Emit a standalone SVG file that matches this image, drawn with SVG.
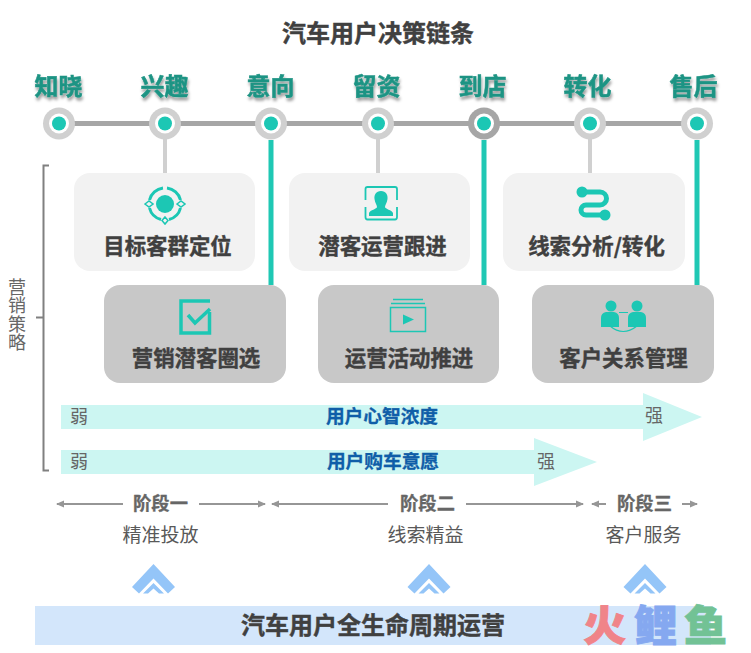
<svg xmlns="http://www.w3.org/2000/svg" width="751" height="653" viewBox="0 0 751 653">
<defs>
<filter id="sh" x="-20%" y="-20%" width="140%" height="160%"><feDropShadow dx="1" dy="3" stdDeviation="1.5" flood-color="#000" flood-opacity="0.4"/></filter>
<marker id="ah" viewBox="0 0 8 8" refX="7" refY="4" markerWidth="8" markerHeight="8" markerUnits="userSpaceOnUse" orient="auto-start-reverse"><path d="M0 0.5L8 4L0 7.5Z" fill="#969696"/></marker>
<g id="chev"><path d="M0 0L21.5 23L14.500 29.500L0 14.500L-14.500 29.500L-21.500 23Z" fill="#94c5f8"/><path d="M0 19L10.500 29.500H5.500L0 24.500L-5.500 29.500H-10.500Z" fill="#94c5f8"/></g>
</defs>
<style>
text{font-family:"Noto Sans CJK SC","Liberation Sans",sans-serif}
.t{font-size:24px;font-weight:700;fill:#404040;stroke:#404040;stroke-width:.4px;text-anchor:middle}
.st{font-size:24px;font-weight:700;fill:#1f9484;stroke:#1f9484;stroke-width:.5px;text-anchor:middle;filter:url(#sh)}
.bl{font-size:21.400px;font-weight:700;fill:#404040;stroke:#404040;stroke-width:.4px;text-anchor:middle}
.bar{fill:#ccf6f2}
.bt{font-size:18.700px;font-weight:700;fill:#0f5ea8;stroke:#0f5ea8;stroke-width:.3px;text-anchor:middle}
.ws{font-size:18px;fill:#666;text-anchor:middle}
.ph{font-size:18.300px;font-weight:700;fill:#666;stroke:#666;stroke-width:.3px;text-anchor:middle}
.sub{font-size:19px;fill:#595959;text-anchor:middle}
.top{fill:#f2f2f2}.low{fill:#c8c8c8}
.ic{fill:#1cc7b4}.ics{fill:none;stroke:#1cc7b4}
.gl{stroke:#d0d0d0;stroke-width:4;fill:none}
.tl{stroke:#1fc8b4;stroke-width:5;fill:none}
.ar{stroke:#969696;stroke-width:2;fill:none;marker-end:url(#ah)}
.oc{fill:#d0d0d0}.wc{fill:#fff}.ic2{fill:#1cc7b4}
.wm{font-size:40px;font-weight:900;stroke-width:.8px}
</style>
<rect width="751" height="653" fill="#fff"/>
<text id="title" class="t" x="378" y="41.500">汽车用户决策链条</text>
<g id="connectors">
<path d="M59 123.500H697" stroke="#a6a6a6" stroke-width="5" fill="none"/>
<path class="gl" d="M165 139V173M378 139V173M590 139V173"/>
<path class="tl" d="M271 140V285M484 140V285M697 140V285"/>
<path d="M49 165.500H43.500V470.500H49M43 317.500H36" fill="none" stroke="#808080" stroke-width="2"/>
<path class="ar" d="M123 504H57"/><path class="ar" d="M199 504H265"/>
<path class="ar" d="M388 504H272"/><path class="ar" d="M466 504H583"/>
<path class="ar" d="M606 504H592"/><path class="ar" d="M682 504H697"/>
</g>
<g id="stage-1"><circle class="oc" cx="59" cy="123.500" r="16"/><circle class="wc" cx="59" cy="123.500" r="10"/><circle class="ic2" cx="59" cy="123.500" r="7"/><text class="st" x="58.500" y="94.500">知晓</text></g>
<g id="stage-2"><circle class="oc" cx="165" cy="123.500" r="16"/><circle class="wc" cx="165" cy="123.500" r="10"/><circle class="ic2" cx="165" cy="123.500" r="7"/><text class="st" x="164.500" y="94.500">兴趣</text></g>
<g id="stage-3"><circle class="oc" cx="271" cy="123.500" r="16"/><circle class="wc" cx="271" cy="123.500" r="10"/><circle class="ic2" cx="271" cy="123.500" r="7"/><text class="st" x="270.500" y="94.500">意向</text></g>
<g id="stage-4"><circle class="oc" cx="378" cy="123.500" r="16"/><circle class="wc" cx="378" cy="123.500" r="10"/><circle class="ic2" cx="378" cy="123.500" r="7"/><text class="st" x="376.500" y="94.500">留资</text></g>
<g id="stage-5"><circle cx="484" cy="123.500" r="16" fill="#a6a6a6"/><circle class="wc" cx="484" cy="123.500" r="10"/><circle class="ic2" cx="484" cy="123.500" r="7"/><text class="st" x="482.500" y="94.500">到店</text></g>
<g id="stage-6"><circle class="oc" cx="590" cy="123.500" r="16"/><circle class="wc" cx="590" cy="123.500" r="10"/><circle class="ic2" cx="590" cy="123.500" r="7"/><text class="st" x="587.500" y="94.500">转化</text></g>
<g id="stage-7"><circle class="oc" cx="697" cy="123.500" r="16"/><circle class="wc" cx="697" cy="123.500" r="10"/><circle class="ic2" cx="697" cy="123.500" r="7"/><text class="st" x="693.500" y="94.500">售后</text></g>

<g id="box-target"><rect class="top" x="74" y="173" width="181" height="98" rx="16"/>
<circle class="ic" cx="165" cy="204" r="9"/>
<path class="ics" stroke-width="3" d="M149.500 200A16 16 0 0 1 163 188.100M167 188.100A16 16 0 0 1 180.500 200M180.500 208A16 16 0 0 1 169 219.500M161 219.500A16 16 0 0 1 149.500 208"/>
<path class="ics" stroke-width="1.500" d="M145 204L149 201L153 204L149 207ZM177 204L181 201L185 204L181 207ZM165 217L168 220.500L165 224L162 220.500Z"/>
<text class="bl" x="167.500" y="254">目标客群定位</text></g>
<g id="box-track"><rect class="top" x="289" y="173" width="181" height="98" rx="16"/>
<path class="ics" stroke-width="1.800" d="M365.500 200V189Q365.500 187 367.500 187H395Q397 187 397 189V200M397 207V217Q397 219.500 395 219.500H367.500Q365.500 219.500 365.500 217V207"/>
<path class="ic" d="M381 191C386 191 388 195 387.500 199C387 203 385 205 385 207C385 209 392 210 393 213V216H369V213C370 210 377 209 377 207C377 205 375 203 374.500 199C374 195 376 191 381 191Z"/>
<text class="bl" x="382.500" y="254">潜客运营跟进</text></g>
<g id="box-convert"><rect class="top" x="503" y="173" width="182" height="98" rx="16"/>
<path class="ics" stroke-width="5" stroke-linecap="round" d="M582 192H600A6.500 6.500 0 0 1 600 205H586A5 5 0 0 0 586 215H605"/>
<circle class="ic" cx="582" cy="192" r="5.500"/><circle class="ic" cx="605" cy="215" r="5.500"/>
<text class="bl" x="596.500" y="254">线索分析/转化</text></g>
<g id="box-select"><rect class="low" x="104" y="285" width="182" height="98" rx="16"/>
<path class="ics" stroke-width="3.500" d="M210 301H181V333H209.500V312"/>
<path class="ics" stroke-width="3.500" d="M188 315L195 323L210 309"/>
<text class="bl" x="196" y="366">营销潜客圈选</text></g>
<g id="box-activity"><rect class="low" x="318" y="285" width="181" height="98" rx="16"/>
<path class="ics" stroke-width="1.500" d="M390.500 307.500H425.500V331.500H390.500ZM391 303.500H425M393 299.500H423"/>
<path class="ic" d="M403 314.500L414 319.500L403 324.500Z"/>
<text class="bl" x="409" y="366">运营活动推进</text></g>
<g id="box-relation"><rect class="low" x="532" y="285" width="182" height="98" rx="16"/>
<circle class="ic" cx="611" cy="306" r="5.500"/><circle class="ic" cx="637" cy="306" r="5.500"/>
<path class="ic" d="M601 327V318Q601 313 606 312H614Q619 313 619 318V327Z"/>
<path class="ic" d="M628 327V318Q628 313 633 312H641Q646 313 646 318V327Z"/>
<path class="ics" stroke-width="1.200" d="M610 326Q623 337 637 326M619 312.500H628"/>
<text class="bl" x="623.500" y="366">客户关系管理</text></g>

<g id="strategy"><text class="ws" x="17" y="278" style="writing-mode:vertical-rl;text-anchor:start;letter-spacing:.5px">营销策略</text></g>
<g id="bar-mind"><path class="bar" d="M61 405H643V393L702 417L643 441V429H61Z"/>
<text class="ws" x="79" y="423">弱</text><text class="ws" x="654" y="422">强</text><text class="bt" x="382" y="423">用户心智浓度</text></g>
<g id="bar-intent"><path class="bar" d="M61 450H534V438L597 462L534 486V474H61Z"/>
<text class="ws" x="79" y="468">弱</text><text class="ws" x="546" y="468">强</text><text class="bt" x="383" y="468">用户购车意愿</text></g>

<g id="phase-1"><text class="ph" x="160.500" y="510">阶段一</text><text class="sub" x="160.500" y="542">精准投放</text></g>
<g id="phase-2"><text class="ph" x="427.500" y="510">阶段二</text><text class="sub" x="425.500" y="542">线索精益</text></g>
<g id="phase-3"><text class="ph" x="644.500" y="510">阶段三</text><text class="sub" x="643.500" y="542">客户服务</text></g>
<g id="chevrons"><use href="#chev" x="153.500" y="564"/><use href="#chev" x="429" y="564"/><use href="#chev" x="645" y="564"/></g>
<g id="lifecycle"><rect x="35" y="606" width="676" height="39" fill="#d3e6fb"/><text class="t" x="373" y="634">汽车用户全生命周期运营</text></g>
<g id="watermark"><text class="wm" x="0" y="0" transform="translate(583 641) scale(1.080 1.050)" fill="#f08489" stroke="#f08489">火</text><text class="wm" x="0" y="0" transform="translate(634 641) scale(1.080 1.050)" fill="#85a8f0" stroke="#85a8f0">鲤</text><text class="wm" x="0" y="0" transform="translate(684 641) scale(1.080 1.050)" fill="#72c295" stroke="#72c295">鱼</text></g>
</svg>
